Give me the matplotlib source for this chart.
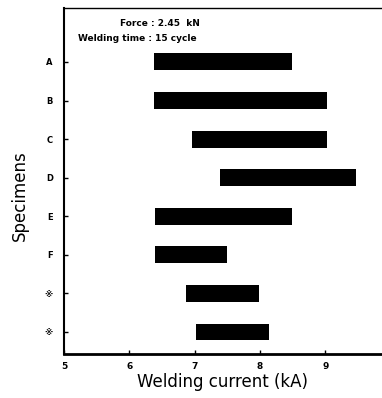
import matplotlib
matplotlib.use("Agg")
import matplotlib.pyplot as plt

plt.rcParams['font.family'] = ['DejaVu Sans', 'Noto Sans CJK SC']

# welding current range per specimen (kA)
specimens = ["A", "B", "C", "D", "E", "F", "※", "※"]
current_low = [6.38, 6.38, 6.96, 7.39, 6.39, 6.39, 6.87, 7.02]
current_high = [8.49, 9.03, 9.03, 9.47, 8.49, 7.50, 7.99, 8.14]
xticks = [5, 6, 7, 8, 9]

fig = plt.figure(figsize=(3.82, 3.98), dpi=100)
ax = fig.add_axes([0.1675, 0.1106, 0.8325, 0.8694])

ypos = list(range(len(specimens)))
widths = [h - l for l, h in zip(current_low, current_high)]
ax.barh(ypos, widths, left=current_low, height=0.44, color="black")

ax.set_xlim(5, 9.87)
ax.set_ylim(7.57, -1.4)
ax.set_yticks(ypos)
ax.set_yticklabels(specimens, fontsize=6, fontweight="bold")
ax.set_xticks(xticks)
ax.set_xticklabels([str(t) for t in xticks], fontsize=6.5, fontweight="bold")
ax.tick_params(direction="in", length=3, width=1, pad=8)
ax.tick_params(axis="x", pad=6)

ax.spines["right"].set_visible(False)
ax.spines["top"].set_linewidth(1)
ax.spines["left"].set_linewidth(1.5)
ax.spines["bottom"].set_linewidth(2)

ax.set_xlabel("Welding current (kA)", fontsize=12, labelpad=1)
ax.set_ylabel("Specimens", fontsize=12)
ax.yaxis.set_label_coords(-0.11, 0.457)

ax.text(5.86, -1.01, "Force : 2.45  kN", fontsize=6.5, fontweight="bold", va="center")
ax.text(5.21, -0.6, "Welding time : 15 cycle", fontsize=6.5, fontweight="bold", va="center")

fig.savefig("out.png", dpi=100)
